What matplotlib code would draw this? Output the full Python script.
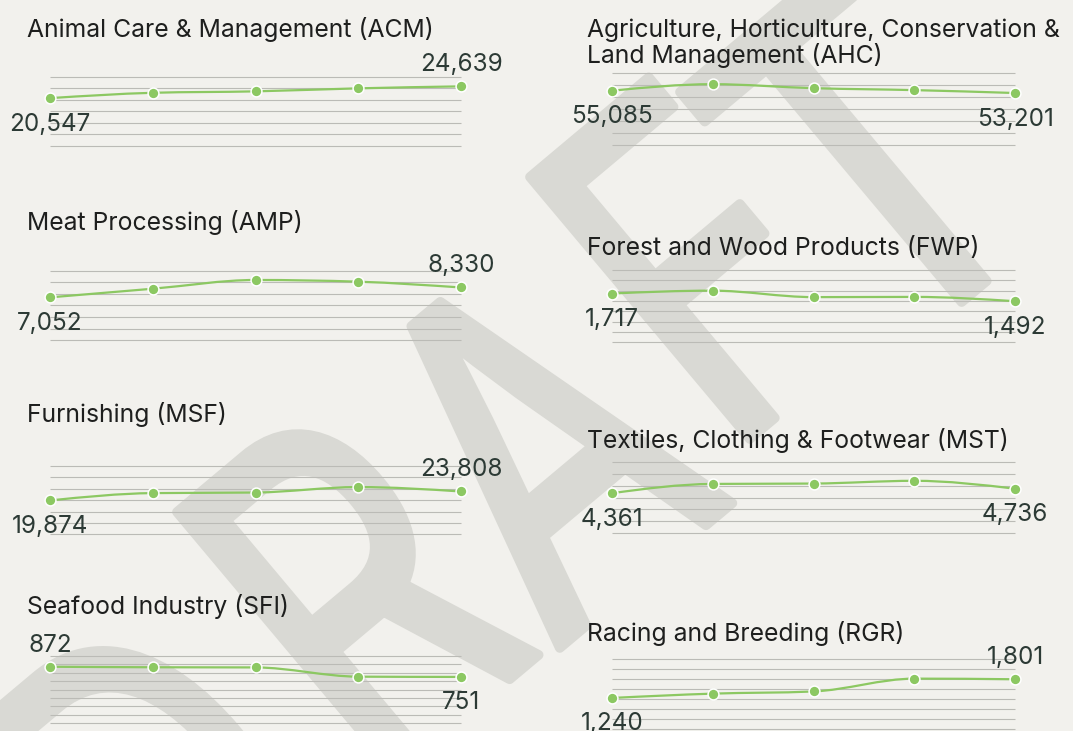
import numpy as np
import matplotlib
matplotlib.use("Agg")
import matplotlib.pyplot as plt
from matplotlib.path import Path
from matplotlib.patches import PathPatch
from matplotlib.textpath import TextPath
from matplotlib.font_manager import FontProperties
from matplotlib.transforms import Affine2D

W, H, DPI = 1073, 731, 100

# ---- data -------------------------------------------------------------
titles = [
    "Animal Care & Management (ACM)",
    "Agriculture, Horticulture, Conservation &\nLand Management (AHC)",
    "Meat Processing (AMP)",
    "Forest and Wood Products (FWP)",
    "Furnishing (MSF)",
    "Textiles, Clothing & Footwear (MST)",
    "Seafood Industry (SFI)",
    "Racing and Breeding (RGR)",
]
acm = [20547, 22400, 22900, 23950, 24639]
ahc = [55085, 60500, 57200, 55600, 53201]
amp = [7052, 8170, 9300, 9080, 8330]
fwp = [1717, 1800, 1612, 1618, 1492]
msf = [19874, 23100, 23350, 25750, 23808]
mst = [4361, 5140, 5170, 5400, 4736]
sfi = [872, 866, 864, 754, 751]
rgr = [1240, 1370, 1435, 1820, 1801]
series = [acm, ahc, amp, fwp, msf, mst, sfi, rgr]

# y-axis extent and gridline step for each small multiple
y_max = [28000, 70000, 10500, 2400, 35000, 7000, 1000, 2400]
y_step = [4000, 10000, 1500, 300, 5000, 1000, 100, 300]

# ---- layout (pixels) --------------------------------------------------
col_x = [(50, 461), (611.7, 1015.3)]
# (top gridline, zero level) per panel
panel_y = [(76.7, 157.2), (72.7, 157.4), (270.7, 351.9), (270.0, 352.6),
           (466.0, 545.7), (461.7, 545.3), (656.0, 740.0), (659.3, 739.3)]
title_x = [27, 587]
title_base = [36.7, 36.7, 230, 255, 422.3, 448.3, 614.3, 641]
title_gap = 26.6
# where the first / last value labels sit relative to their point
label_side = [("below", "above"), ("below", "below"), ("below", "above"),
              ("below", "below"), ("below", "above"), ("below", "below"),
              ("above", "below"), ("below", "above")]

# watermark: letter, top-left corner of its glyph box (pixels)
wm_angle = 40.0
wm_em = 470
wm_squeeze = 0.75
wm_letters = [("D", (-28, 730)), ("R", (177, 512)), ("A", (340, 386)),
              ("F", (530, 177)), ("T", (680, 92))]

BG = "#f2f1ed"
WM = "#d9d9d4"
GREEN = "#8cc862"
GRID = "#bbbbb6"
TITLE_C = "#1e1f1e"
NUM_C = "#2c3a35"
FONT = ["Inter", "DejaVu Sans"]


def monotone_path(x, y):
    """Monotone cubic (monotoneX style) path through the points."""
    x = np.asarray(x, float)
    y = np.asarray(y, float)
    n = len(x)
    h = np.diff(x)
    s = np.diff(y) / h
    t = np.zeros(n)
    for i in range(1, n - 1):
        s0, s1 = s[i - 1], s[i]
        p = (s0 * h[i] + s1 * h[i - 1]) / (h[i - 1] + h[i])
        t[i] = (np.sign(s0) + np.sign(s1)) * min(abs(s0), abs(s1), 0.5 * abs(p))
    t[0] = (3 * s[0] - t[1]) / 2
    t[-1] = (3 * s[-1] - t[-2]) / 2
    verts = [(x[0], y[0])]
    codes = [Path.MOVETO]
    for i in range(n - 1):
        dx = h[i] / 3
        verts += [(x[i] + dx, y[i] + dx * t[i]),
                  (x[i + 1] - dx, y[i + 1] - dx * t[i + 1]),
                  (x[i + 1], y[i + 1])]
        codes += [Path.CURVE4] * 3
    return Path(verts, codes)


fig = plt.figure(figsize=(W / DPI, H / DPI), dpi=DPI, facecolor=BG)

# watermark layer in pixel coordinates (y downwards)
wm_ax = fig.add_axes([0, 0, 1, 1], zorder=-10)
wm_ax.set_xlim(0, W)
wm_ax.set_ylim(H, 0)
wm_ax.axis("off")
fp = FontProperties(family="Inter")
for ch, (px, py) in wm_letters:
    tp = TextPath((0, 0), ch, size=wm_em, prop=fp)
    bb = tp.get_extents()
    tr = (Affine2D().translate(-bb.x0, -bb.y1).scale(wm_squeeze, 1)
          .rotate_deg(wm_angle).scale(1, -1).translate(px, py))
    wm_ax.add_patch(PathPatch(tr.transform_path(tp), facecolor=WM,
                              edgecolor=WM, lw=7, joinstyle="round"))

for k, vals in enumerate(series):
    col = k % 2
    x0, x1 = col_x[col]
    ytop, yzero = panel_y[k]
    ax = fig.add_axes([x0 / W, 1 - yzero / H, (x1 - x0) / W, (yzero - ytop) / H])
    ax.set_facecolor("none")
    xs = np.arange(len(vals))
    ax.set_xlim(xs[0], xs[-1])
    ax.set_ylim(0, y_max[k])
    for sp in ax.spines.values():
        sp.set_visible(False)
    ax.set_xticks([])
    ax.set_yticks([])

    grid = np.arange(y_step[k], y_max[k] + y_step[k] / 2, y_step[k])
    ax.hlines(grid, xs[0], xs[-1], color=GRID, lw=0.8, clip_on=False, zorder=1)

    ax.add_patch(PathPatch(monotone_path(xs, vals), facecolor="none",
                           edgecolor=GREEN, lw=1.6, clip_on=False, zorder=2))
    ax.plot(xs, vals, "o", ms=7.8, mfc=GREEN, mec="white", mew=1.1,
            clip_on=False, zorder=3)

    for idx, side in zip((0, len(vals) - 1), label_side[k]):
        dy = 10.8 if side == "above" else -23.4
        ax.annotate(f"{vals[idx]:,}", xy=(xs[idx], vals[idx]),
                    xytext=(0, dy), textcoords="offset points",
                    ha="center", va="baseline", fontsize=17.5,
                    color=NUM_C, family=FONT, annotation_clip=False,
                    zorder=4)

    for j, line in enumerate(titles[k].split("\n")):
        fig.text(title_x[col] / W, 1 - (title_base[k] + j * title_gap) / H,
                 line, ha="left", va="baseline", fontsize=17.8,
                 color=TITLE_C, family=FONT, zorder=5)

fig.savefig("out.png", dpi=DPI, facecolor=BG)
